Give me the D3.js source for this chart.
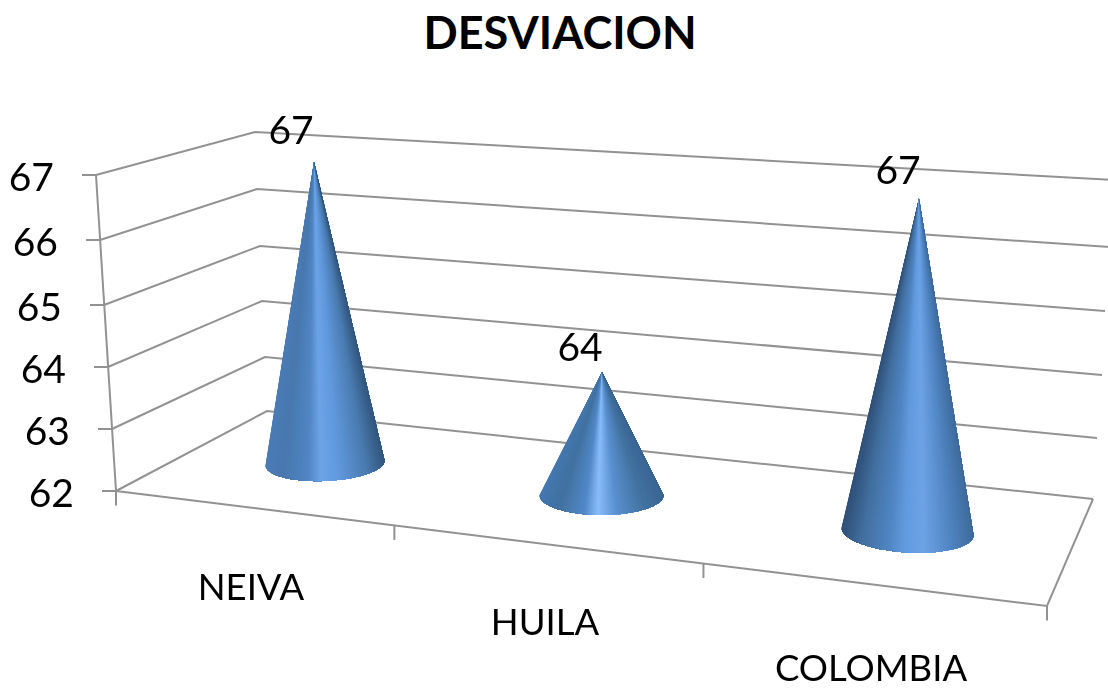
<!DOCTYPE html>
<html><head><meta charset="utf-8">
<script src="https://cdnjs.cloudflare.com/ajax/libs/d3/7.8.5/d3.min.js"></script>
<style>html,body{margin:0;background:#fff;overflow:hidden}svg{display:block}text{font-family:Lato,sans-serif;fill:#000}</style>
</head><body><svg id="c" width="1108" height="688"></svg>
<script>
const title = "DESVIACION";
const categories = ["NEIVA", "HUILA", "COLOMBIA"];
const values = [67, 64, 67];
const yTicks = [62, 63, 64, 65, 66, 67];

const svg = d3.select("#c");
const defs = svg.append("defs");
defs.append("filter").attr("id","soft").attr("x","-5%").attr("y","-5%").attr("width","110%").attr("height","110%")
  .append("feGaussianBlur").attr("stdDeviation",0.5);
const g = svg.append("g").attr("filter","url(#soft)");

// Projected box edges, as value -> pixel along each vertical edge
const frontX = d3.scaleLinear(yTicks, [116,112,108,104,100,96]);
const frontY = d3.scaleLinear(yTicks, [491,429,367,305,240,175]);
const backX  = d3.scaleLinear(yTicks, [267,265,262,260,257,255]);
const backY  = d3.scaleLinear(yTicks, [411,357,301,246,189,132]);
const rightX = d3.scaleLinear(yTicks, [1093,1097,1102,1105,1110,1114]);
const rightY = d3.scaleLinear(yTicks, [499,438,375,311,247,180]);
const line = d3.line();
const grid = "#929292";
const stroke = (d, w=2) => g.append("path").attr("d", line(d)).attr("fill","none").attr("stroke",grid).attr("stroke-width",w);

// walls
yTicks.forEach(v => {
  stroke([[frontX(v),frontY(v)],[backX(v),backY(v)],[rightX(v),rightY(v)]]);
  stroke([[frontX(v)-14,frontY(v)],[frontX(v),frontY(v)]]);
  g.append("text").attr("x",frontX(v)-43.5+(67-v)*0+1.5).attr("y",frontY(v)+2).attr("dy","0.36em")
    .attr("text-anchor","end").attr("font-size",39).text(v);
});
stroke([[frontX(67),frontY(67)],[frontX(62),frontY(62)]]);

// floor
const floorU = d3.scaleLinear([0,1],[116,1047]), floorV = d3.scaleLinear([0,1],[491,606]);
const corner = [floorU(1), floorV(1)];
stroke([[floorU(0),floorV(0)],corner,[rightX(62),rightY(62)]]);
const boundaries = [0, 0.299, 0.631, 1];
boundaries.forEach(u => stroke([[floorU(u),floorV(u)],[floorU(u),floorV(u)+14.5]]));

// Category label positions
const catX = d3.scaleOrdinal(categories,[251,545,871]);
const catY = d3.scaleOrdinal(categories,[587,622,668]);
categories.forEach(c => g.append("text").attr("x",catX(c)).attr("y",catY(c)).attr("dy","0.36em")
  .attr("text-anchor","middle").attr("font-size",36.5).text(c));

// Cones
const baseX = d3.scaleOrdinal(categories,[325,601.5,907.5]);
const baseY = d3.scaleOrdinal(categories,[463,495,531.5]);
const rx = d3.scaleOrdinal(categories,[59.5,62,66]);
const ry = d3.scaleOrdinal(categories,[18,20,21]);
const slope = d3.scaleOrdinal(categories,[-0.04,0,0.055]);
const unitH = d3.scaleOrdinal(categories,[60.2,61.5,66.6]);
const lean = d3.scaleOrdinal(categories,[-2.2,0.25,2.3]);
const rampStops = [0,0.15,0.36,0.47,0.62,0.85,1];
const ramps = d3.scaleOrdinal(categories,[
  ["#4a7cb6","#4878ae","#5186c4","#6da4e8","#6098dc","#4a7bb0","#33587f"],
  ["#4477b0","#41719f","#5288c8","#88bdfb","#5a90d0","#42729f","#3a6694"],
  ["#2f5179","#426f9f","#5086c4","#619ade","#6ca3e6","#4e82bf","#3f6c9c"]]);
const labelX = d3.scaleOrdinal(categories,[291,580,898]);
const labelDY = d3.scaleOrdinal(categories,[32,25,29]);

categories.forEach((c,i) => {
  const v = values[i];
  const apex = [baseX(c)+lean(c)*(v-62), baseY(c)-unitH(c)*(v-62)];
  const ramp = d3.scaleLinear(rampStops, ramps(c)).interpolate(d3.interpolateRgb);
  const rim = t => [baseX(c)+rx(c)*Math.cos(t), baseY(c)+ry(c)*Math.sin(t)+slope(c)*rx(c)*Math.cos(t)];
  const N = 120, cone = g.append("g");
  const ts = d3.range(N+1).map(k => Math.PI*(1-k/N));
  // painter's fan: each facet covers the rest of the cone, so no seams appear
  ts.slice(0,-1).forEach((a,k) => {
    const col = ramp((1+Math.cos(a+Math.PI/N/-2))/2);
    cone.append("path").attr("d", line([apex, ...ts.slice(k).map(rim)])+"Z")
      .attr("fill",col);
  });
  g.append("text").attr("x",labelX(c)).attr("y",apex[1]-labelDY(c)).attr("dy","0.36em")
    .attr("text-anchor","middle").attr("font-size",39).text(v);
});

svg.append("text").attr("x",560).attr("y",33).attr("dy","0.36em").attr("text-anchor","middle")
  .attr("font-size",45).attr("font-weight",700).text(title);
</script></body></html>
